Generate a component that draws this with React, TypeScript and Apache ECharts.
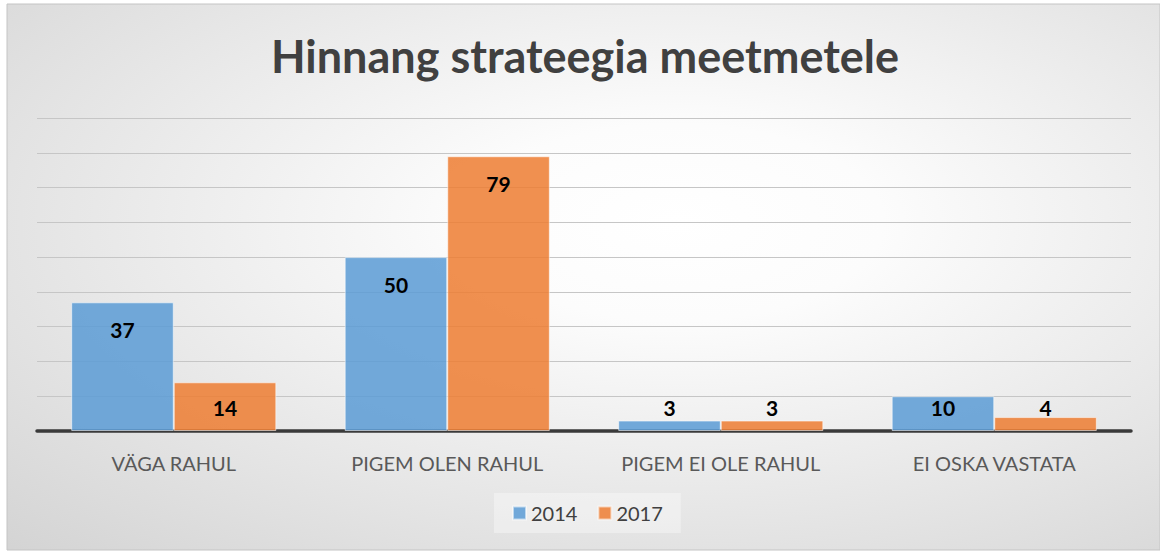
import React, { useEffect, useRef } from "react";
import * as echarts from "echarts";

const categories = ["VÄGA RAHUL", "PIGEM OLEN RAHUL", "PIGEM EI OLE RAHUL", "EI OSKA VASTATA"];
const series2014 = [37, 50, 3, 10];
const series2017 = [14, 79, 3, 4];
const seriesNames = ["2014", "2017"];
const titleText = "Hinnang strateegia meetmetele";

const FONT = "Lato, 'Open Sans', sans-serif";

function labelled(values: number[]) {
  return values.map((v) => ({
    value: v,
    label:
      v >= 15
        ? { position: "insideTop", distance: 17 }
        : { position: "insideBottom", distance: 13 },
  }));
}

export default function App() {
  const ref = useRef<HTMLDivElement>(null);
  useEffect(() => {
    if (!ref.current) return;
    const chart = echarts.init(ref.current, undefined, { renderer: "svg" });
    const barLabel = {
      show: true,
      color: "#000000",
      fontFamily: FONT,
      fontWeight: "bold",
      fontSize: 21,
      lineHeight: 21,
    };
    chart.setOption({
      animation: false,
      backgroundColor: "#ffffff",
      graphic: [
        {
          type: "rect",
          z: -100,
          silent: true,
          shape: { x: 7, y: 4, width: 1153, height: 546 },
          style: {
            stroke: "#c4c4c4",
            lineWidth: 1,
            fill: {
              type: "radial",
              x: 0.58,
              y: 0.4,
              r: 1.2,
              colorStops: [
                { offset: 0, color: "#ffffff" },
                { offset: 0.15, color: "#fcfcfc" },
                { offset: 1, color: "#bdbdbd" },
              ],
            },
          },
        },
      ],
      title: {
        text: titleText,
        left: 580,
        top: 25,
        textAlign: "center",
        textStyle: {
          fontFamily: FONT,
          fontWeight: "bold",
          fontSize: 45,
          lineHeight: 52,
          color: "#404040",
        },
      },
      legend: {
        data: seriesNames,
        left: 494,
        top: 493,
        padding: [10, 18, 10, 18],
        backgroundColor: "rgba(255,255,255,0.35)",
        itemWidth: 13,
        itemHeight: 13,
        itemGap: 20,
        icon: "rect",
        textStyle: { fontFamily: FONT, fontSize: 20, color: "#404040" },
      },
      grid: { left: 37, right: 29, top: 118, bottom: 120 },
      xAxis: {
        type: "category",
        data: categories,
        axisLine: { lineStyle: { color: "#3a3a3a", width: 3.5 } },
        axisTick: { show: false },
        axisLabel: {
          fontFamily: FONT,
          fontSize: 20,
          color: "#595959",
          margin: 22,
        },
      },
      yAxis: {
        type: "value",
        min: 0,
        max: 90,
        interval: 10,
        axisLabel: { show: false },
        axisLine: { show: false },
        axisTick: { show: false },
        splitLine: { lineStyle: { color: "#c6c6c6", width: 1 } },
      },
      series: [
        {
          name: seriesNames[0],
          type: "bar",
          data: labelled(series2014),
          barGap: "0%",
          barCategoryGap: "25%",
          itemStyle: {
            color: "rgba(91,155,213,0.85)",
            borderColor: "rgba(255,255,255,0.55)",
            borderWidth: 1,
          },
          label: barLabel,
        },
        {
          name: seriesNames[1],
          type: "bar",
          data: labelled(series2017),
          barGap: "0%",
          barCategoryGap: "25%",
          itemStyle: {
            color: "rgba(237,125,49,0.85)",
            borderColor: "rgba(255,255,255,0.55)",
            borderWidth: 1,
          },
          label: barLabel,
        },
      ],
    });
    return () => chart.dispose();
  }, []);
  return (
    <div
      ref={ref}
      style={{ position: "fixed", left: 0, top: 0, width: 1160, height: 551 }}
    />
  );
}
